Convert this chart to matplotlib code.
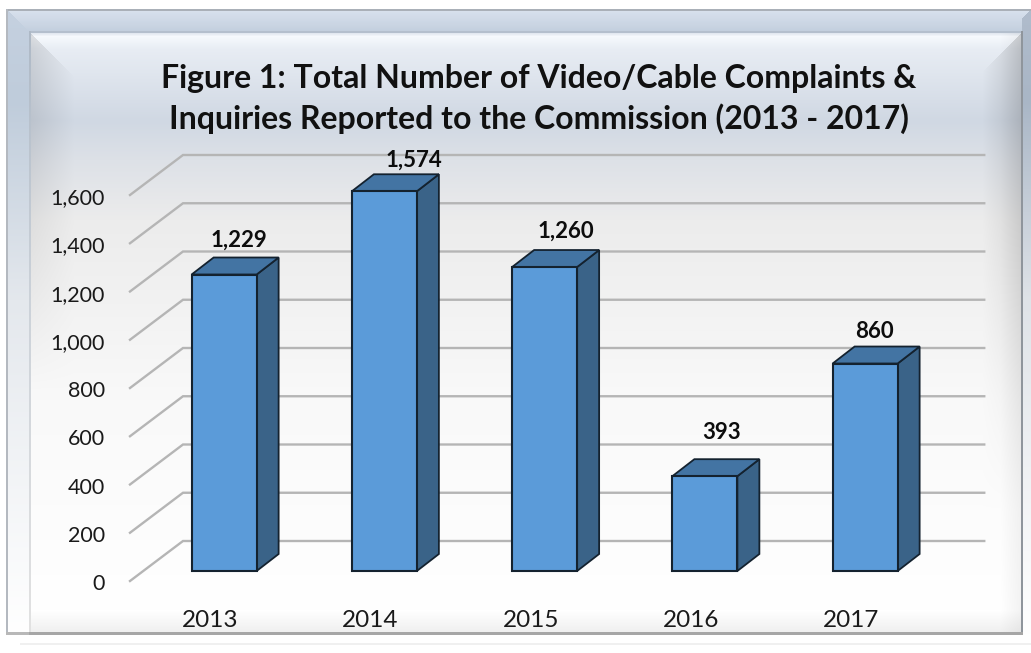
import matplotlib
matplotlib.use("Agg")
import matplotlib.pyplot as plt
import numpy as np
from matplotlib.patches import Polygon
from matplotlib.transforms import ScaledTranslation

plt.rcParams["font.family"] = ["Lato", "DejaVu Sans"]

# data
years = ["2013", "2014", "2015", "2016", "2017"]
complaints = [1229, 1574, 1260, 393, 860]
y_ticks = [0, 200, 400, 600, 800, 1000, 1200, 1400, 1600]
title = "Figure 1: Total Number of Video/Cable Complaints &\nInquiries Reported to the Commission (2013 - 2017)"

W, H = 1031, 653

# pixels per unit on the front plane of the chart
PX_X = 160.25
PX_Y = 386 / 1600

# depth of the walls and of the bars, in data units
WALL_DX, WALL_DY = 53 / PX_X, 40 / PX_Y
BAR_DX, BAR_DY = 22 / PX_X, 17 / PX_Y
BAR_SHIFT_X, BAR_SHIFT_Y = 14 / PX_X, 10 / PX_Y
BAR_W = 65 / PX_X

# little nudges for each value label (px), excel placed them unevenly
label_nudge = [(15, 34), (30, 31), (21, 36), (17, 44), (9, 32)]


def ramp(pos, stops, colors):
    return np.stack([np.interp(pos, stops, [c[i] for c in colors]) for i in range(3)], axis=-1)


def hex3(h):
    return tuple(int(h[i:i + 2], 16) / 255 for i in (1, 3, 5))


def background():
    yy, xx = np.mgrid[0:H, 0:W]
    img = np.ones((H, W, 3))

    # inner panel, vertical gradient
    inner = ramp(yy, [31, 36, 48, 120, 160, 220, 400, 610, 634],
                 [hex3(c) for c in ["#d5dde8", "#f6f9fd", "#e8edf4", "#d0d8e3", "#dde1e7",
                                    "#ececec", "#f9f9f9", "#ffffff", "#eeeeee"]])
    # shade on the left and right sides, below the corner diagonals
    left_part = (yy - 31) > (xx - 29)
    side = np.clip(1 - (xx - 29) / 45, 0, 1) * np.clip(1 - (yy - 60) / 330, 0, 1) * left_part
    inner = inner * (1 - 0.12 * side[..., None])
    right_part = (yy - 31) > (1022 - xx)
    side_r = np.clip((xx - 982) / 40, 0, 1) * np.clip(1 - (yy - 60) / 450, 0, 1) * right_part
    inner = inner * (1 - 0.16 * side_r[..., None])
    side_b = np.clip((xx - 1000) / 22, 0, 1)
    inner = inner * (1 - 0.05 * side_b[..., None])

    mask = (xx >= 29) & (xx < 1022) & (yy >= 31) & (yy < 634)
    img[mask] = inner[mask]

    # top bevel
    top = ramp(yy, [9, 31], [hex3("#d9e2ee"), hex3("#c3cfde")])
    mask = (xx >= 6) & (yy >= 9) & (yy < 31)
    img[mask] = top[mask]

    # left bevel
    left = ramp(yy, [9, 100, 300, 634], [hex3(c) for c in ["#c5d1e0", "#bfccdb", "#e4e8ed", "#ffffff"]])
    mask = (xx >= 6) & (xx < 29) & (yy >= 9 + (xx - 6)) & (yy < 634)
    img[mask] = left[mask]

    # right bevel
    right = ramp(yy, [9, 100, 300, 634], [hex3(c) for c in ["#b0bccc", "#a9b6c6", "#dfe3e8", "#ffffff"]])
    mask = (xx >= 1022) & (yy >= 9 + (1031 - xx)) & (yy < 634)
    img[mask] = right[mask]

    # border lines
    rows = np.arange(H)
    img[9:11, 6:] = hex3("#aab0b8")
    img[9:634, 6:8] = hex3("#b4b9c0")
    img[31:33, 29:1022] = hex3("#b4bfcd")
    fade = ramp(rows, [31, 300, 634], [hex3("#aeb9c6"), hex3("#ccd2d9"), hex3("#e2e2e2")])
    img[31:634, 29:31] = fade[31:634, None, :]
    img[31:634, 1021:1023] = hex3("#8f959c")
    img[632:635, 29:1023] = hex3("#a6a6a6")
    img[632:635, 6:29] = hex3("#b8b8b8")
    img[643:645, 20:1031] = hex3("#f0f0f0")
    return img


fig = plt.figure(figsize=(W / 100, H / 100), dpi=100)

bg = fig.add_axes([0, 0, 1, 1])
bg.imshow(background(), extent=(0, W, H, 0), interpolation="bilinear", aspect="auto")
bg.axis("off")

# chart axes sits exactly on the front plane: x from 130 to 931, y from 581 up to 195
ax = fig.add_axes([130 / W, (H - 581) / H, 801.25 / W, 386 / H])
ax.patch.set_alpha(0)
ax.set_xlim(-0.5, 4.5)
ax.set_ylim(0, 1600)
for s in ax.spines.values():
    s.set_visible(False)

x = np.arange(len(years))

# gridlines on the side and back walls
for v in y_ticks:
    ax.plot([-0.5, -0.5 + WALL_DX, 4.5 + WALL_DX], [v, v + WALL_DY, v + WALL_DY],
            color="#b5b5b5", lw=1.7, clip_on=False, zorder=1, solid_joinstyle="miter")

# 3d bars
bx = x + BAR_SHIFT_X
by = BAR_SHIFT_Y
edge = "#14222f"
for xi, val in zip(bx, complaints):
    l, r = xi - BAR_W / 2, xi + BAR_W / 2
    top_y = by + val
    ax.add_patch(Polygon([(r, by), (r + BAR_DX, by + BAR_DY), (r + BAR_DX, top_y + BAR_DY), (r, top_y)],
                         fc="#3a6388", ec=edge, lw=1.3, clip_on=False, zorder=3))
    ax.add_patch(Polygon([(l, top_y), (l + BAR_DX, top_y + BAR_DY), (r + BAR_DX, top_y + BAR_DY), (r, top_y)],
                         fc="#4374a3", ec=edge, lw=1.3, clip_on=False, zorder=3))
ax.bar(bx, complaints, width=BAR_W, bottom=by, color="#5b9bd9", edgecolor=edge, linewidth=1.5,
       clip_on=False, zorder=4)

# value labels
for xi, val, (dx, dy) in zip(bx, complaints, label_nudge):
    ax.annotate(f"{val:,}", (xi, by + val), xytext=(dx * 0.72, dy * 0.72), textcoords="offset points",
                ha="center", va="center", fontsize=16, fontweight="bold", color="#0d0d0d",
                annotation_clip=False, zorder=5)

ax.set_yticks(y_ticks)
ax.set_yticklabels([f"{v:,}" for v in y_ticks], fontsize=15.5, color="#1a1a1a")
ax.set_xticks(x)
ax.set_xticklabels(years, fontsize=17.5, color="#1a1a1a")
ax.tick_params(axis="both", length=0)
ax.tick_params(axis="y", pad=18)
ax.tick_params(axis="x", pad=21)

# y labels sit a touch lower than the front plane ticks
shift = ScaledTranslation(0, -1.2 / 100, fig.dpi_scale_trans)
for lbl in ax.get_yticklabels():
    lbl.set_transform(lbl.get_transform() + shift)

bg.text(539, 99, title, ha="center", va="center", fontsize=23, fontweight="bold", color="#111111",
        linespacing=1.4)

fig.savefig("out.png", dpi=100)
print("[+] saved out.png")
